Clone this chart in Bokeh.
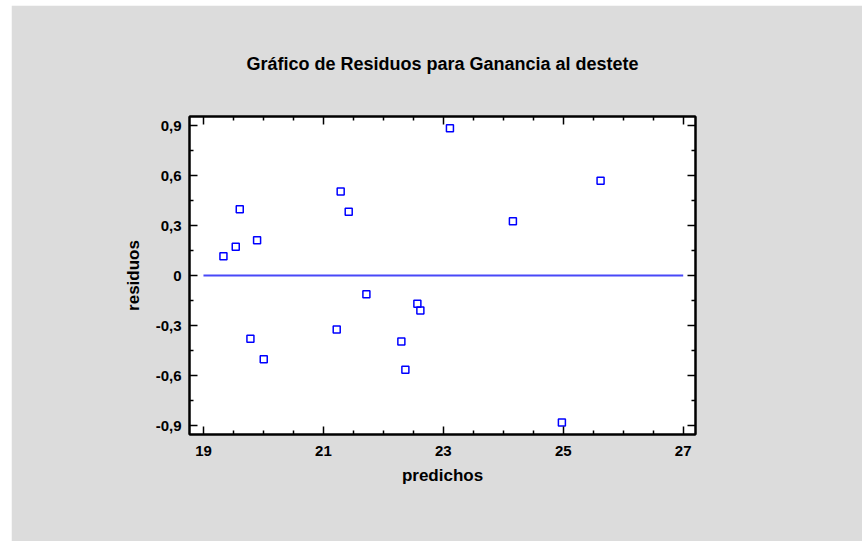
from bokeh.plotting import figure
from bokeh.models import Range1d, LinearAxis, FixedTicker, CustomJSTickFormatter, ColumnDataSource
from bokeh.embed import file_html
from bokeh.resources import INLINE

# ---- data ----
predichos = [19.333, 19.538, 19.605, 19.894, 19.783, 20.005, 21.222, 21.288, 21.422,
             23.110, 24.160, 25.622, 21.717, 22.567, 22.617, 22.300, 22.367, 24.977]
residuos = [0.116, 0.172, 0.398, 0.212, -0.380, -0.502, -0.324, 0.504, 0.382,
            0.884, 0.326, 0.568, -0.112, -0.170, -0.210, -0.396, -0.566, -0.882]
zero_x = [19, 27]
zero_y = [0, 0]
x_ticks = [19, 21, 23, 25, 27]
x_minor = [19.5, 20, 20.5, 21.5, 22, 22.5, 23.5, 24, 24.5, 25.5, 26, 26.5]
y_ticks = [-0.9, -0.6, -0.3, 0, 0.3, 0.6, 0.9]
y_minor = [-0.75, -0.45, -0.15, 0.15, 0.45, 0.75]

title_text = "Gráfico de Residuos para Ganancia al destete"
x_label = "predichos"
y_label = "residuos"

FONT = "Liberation Sans"
GRAY = "#dcdcdc"

p = figure(width=851, height=536, output_backend="svg", toolbar_location=None,
           x_range=Range1d(18.767, 27.205), y_range=Range1d(-0.954, 0.954),
           x_axis_location=None, y_axis_location=None,
           min_border_left=178, min_border_right=167, min_border_top=111, min_border_bottom=107)
p.margin = (5, 0, 0, 11)
p.border_fill_color = GRAY
p.background_fill_color = "white"
p.outline_line_color = "black"
p.outline_line_width = 2
p.grid.visible = False

p.title.text = title_text
p.title.align = "center"
p.title.text_font = FONT
p.title.text_font_style = "bold"
p.title.text_font_size = "18px"
p.title.text_color = "black"
p.title.standoff = 86

fmt = CustomJSTickFormatter(code="""
if (Math.abs(tick) < 1e-9) { return '0'; }
return tick.toFixed(1).replace('.', ',');
""")
fmt_x = CustomJSTickFormatter(code="return String(Math.round(tick));")


def style_axis(ax, labels=True):
    ax.axis_line_color = "black"
    ax.axis_line_width = 2
    ax.major_tick_in = 8
    ax.major_tick_out = 0
    ax.minor_tick_in = 4
    ax.minor_tick_out = 0
    ax.major_tick_line_color = "black"
    ax.major_tick_line_width = 1.5
    ax.minor_tick_line_color = "black"
    ax.minor_tick_line_width = 1.5
    ax.major_label_text_font = FONT
    ax.major_label_text_font_style = "bold"
    ax.major_label_text_font_size = "15px"
    ax.axis_label_text_font = FONT
    ax.axis_label_text_font_style = "bold"
    ax.axis_label_text_font_size = "17px"
    ax.axis_label_text_color = "black"
    if labels:
        ax.major_label_text_color = "black"
    else:
        ax.major_label_text_color = None


xb = LinearAxis(ticker=FixedTicker(ticks=x_ticks, minor_ticks=x_minor), formatter=fmt_x,
                axis_label=x_label)
style_axis(xb)
xb.major_label_standoff = 11
xb.axis_label_standoff = 7
p.add_layout(xb, "below")

xa = LinearAxis(ticker=FixedTicker(ticks=x_ticks, minor_ticks=x_minor), formatter=fmt_x)
style_axis(xa, labels=False)
p.add_layout(xa, "above")

yl = LinearAxis(ticker=FixedTicker(ticks=y_ticks, minor_ticks=y_minor), formatter=fmt,
                axis_label=y_label)
style_axis(yl)
yl.major_label_standoff = 8
yl.axis_label_standoff = 10
p.add_layout(yl, "left")

yr = LinearAxis(ticker=FixedTicker(ticks=y_ticks, minor_ticks=y_minor), formatter=fmt)
style_axis(yr, labels=False)
p.add_layout(yr, "right")

p.line(zero_x, zero_y, line_color="#4848f8", line_width=2)

src = ColumnDataSource(data=dict(x=predichos, y=residuos))
p.scatter("x", "y", source=src, marker="square", size=7, fill_color=None,
          line_color="#0000ff", line_width=1.5)

open("out.html", "w").write(file_html(p, INLINE))
